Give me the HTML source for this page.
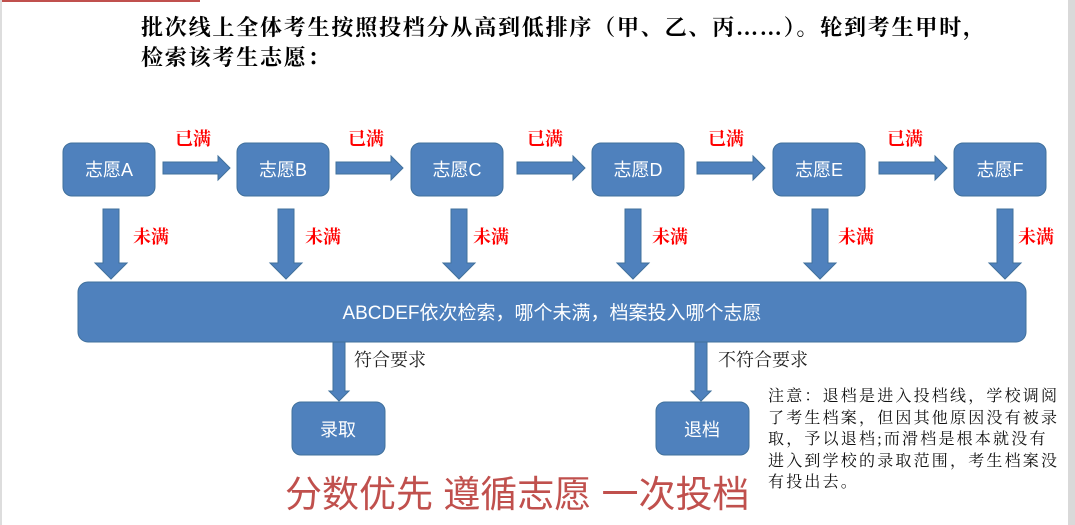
<!DOCTYPE html>
<html><head><meta charset="utf-8"><style>
body{margin:0;width:1075px;height:525px;background:#fff;overflow:hidden;position:relative;font-family:"Liberation Sans","Noto Sans CJK SC",sans-serif}
svg{position:absolute;left:0;top:0}
.t{position:absolute;font-family:"Liberation Serif","Noto Serif CJK SC",serif;white-space:nowrap}
</style></head><body>
<svg width="1075" height="525">
<rect x="0" y="0" width="200" height="2" fill="#c0504d"/>
<rect x="0" y="0" width="2" height="525" fill="#ddd"/>
<rect x="1068" y="0" width="7" height="525" fill="#d9d9d9"/>
<g fill="#4f81bd" stroke="#41719c" stroke-width="1">
<rect x="63" y="143" width="92" height="53" rx="9"/>
<rect x="237" y="143" width="92" height="53" rx="9"/>
<rect x="411" y="143" width="92" height="53" rx="9"/>
<rect x="592" y="143" width="92" height="53" rx="9"/>
<rect x="773" y="143" width="92" height="53" rx="9"/>
<rect x="954" y="143" width="92" height="53" rx="9"/>
<rect x="78" y="282" width="948" height="60" rx="10"/>
<rect x="292" y="402" width="93" height="53" rx="9"/>
<rect x="656" y="402" width="93" height="53" rx="9"/>
<polygon points="163,162 218,162 218,156 230,168 218,180 218,174 163,174"/>
<polygon points="336,162 391,162 391,156 403,168 391,180 391,174 336,174"/>
<polygon points="517,162 573,162 573,156 585,168 573,180 573,174 517,174"/>
<polygon points="697,162 753,162 753,156 765,168 753,180 753,174 697,174"/>
<polygon points="879,162 935,162 935,156 947,168 935,180 935,174 879,174"/>
<polygon points="103,209 119,209 119,263 127,263 111,279 95,263 103,263"/>
<polygon points="278,209 294,209 294,263 302,263 286,279 270,263 278,263"/>
<polygon points="451,209 467,209 467,263 475,263 459,279 443,263 451,263"/>
<polygon points="625,209 641,209 641,263 649,263 633,279 617,263 625,263"/>
<polygon points="812,209 828,209 828,263 836,263 820,279 804,263 812,263"/>
<polygon points="997,209 1013,209 1013,263 1021,263 1005,279 989,263 997,263"/>
<polygon points="333,342 345,342 345,391 349,391 339,401 329,391 333,391"/>
<polygon points="695,342 707,342 707,391 711,391 701,401 691,391 695,391"/>
</g>
<g fill="#fff" font-size="18" text-anchor="middle" font-family="Liberation Sans,Noto Sans CJK SC,sans-serif">
<text x="109" y="176">志愿A</text><text x="283" y="176">志愿B</text><text x="457" y="176">志愿C</text>
<text x="638" y="176">志愿D</text><text x="819" y="176">志愿E</text><text x="1000" y="176">志愿F</text>
<text x="552" y="319" font-size="19">ABCDEF依次检索，哪个未满，档案投入哪个志愿</text>
<text x="338" y="436">录取</text><text x="702" y="436">退档</text>
</g>
<g fill="#ff0000" font-size="18" font-weight="bold" font-family="Liberation Serif,Noto Serif CJK SC,serif">
<text x="175" y="145">已满</text><text x="348" y="145">已满</text><text x="527" y="145">已满</text>
<text x="708" y="145">已满</text><text x="887" y="145">已满</text>
<text x="133" y="243">未满</text><text x="305" y="243">未满</text><text x="473" y="243">未满</text>
<text x="652" y="243">未满</text><text x="838" y="243">未满</text><text x="1018" y="243">未满</text>
</g>
<g fill="#222" font-size="18" font-family="Liberation Serif,Noto Serif CJK SC,serif">
<text x="354" y="366">符合要求</text><text x="718" y="366">不符合要求</text>
</g>
</svg>
<div class="t" style="left:141px;top:13px;font-size:22px;font-weight:bold;line-height:30px;color:#000;letter-spacing:1.8px">批次线上全体考生按照投档分从高到低排序（甲、乙、丙……）。轮到考生甲时，<br>检索该考生志愿：</div>
<div class="t" style="left:285px;top:464px;font-size:37px;color:#c0504d;font-family:'Liberation Sans','Noto Sans CJK SC',sans-serif">分数优先 遵循志愿 一次投档</div>
<div class="t" style="left:768px;top:386px;font-size:16px;line-height:21.5px;color:#111;letter-spacing:2.2px">注意：退档是进入投档线，学校调阅<br>了考生档案，但因其他原因没有被录<br>取，予以退档;而滑档是根本就没有<br>进入到学校的录取范围，考生档案没<br>有投出去。</div>
</body></html>
